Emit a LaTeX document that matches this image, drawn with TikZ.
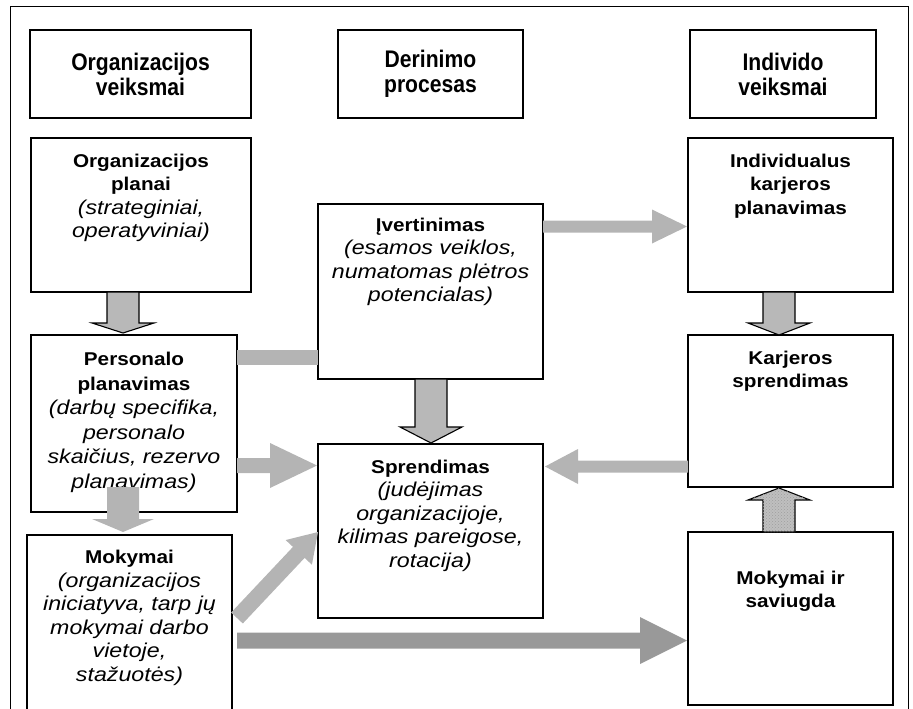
\documentclass[tikz,border=0pt]{standalone}
\usepackage{fontspec}
\setmainfont{Liberation Sans}
\newfontfamily\hdrfont[FakeStretch=0.88]{Liberation Sans}
\newfontfamily\bfam[FakeStretch=1.12]{Liberation Sans}
\newfontfamily\ifam[FakeStretch=1.16]{Liberation Sans}
\newcommand\boldtx[1]{{\bfam\bfseries #1}}
\newcommand\italtx[1]{{\ifam\itshape\fontsize{20}{23.5}\selectfont #1}}
\usetikzlibrary{calc,patterns}
\definecolor{lgray}{RGB}{180,180,180}
\definecolor{mgray}{RGB}{184,184,184}
\definecolor{dgray}{RGB}{153,153,153}
\newcommand\barrow[6]{%
  \path let \p1=(#2), \p2=(#3), \n1={atan2(\y2-\y1,\x2-\x1)}, \n2={veclen(\x2-\x1,\y2-\y1)} in \pgfextra{\xdef\barang{\n1}\xdef\barlen{\n2}};
  \path[#1, shift={(#2)}, rotate=\barang] (0,-#4) -- (\barlen-#6,-#4) -- (\barlen-#6,-#5) -- (\barlen,0) -- (\barlen-#6,#5) -- (\barlen-#6,#4) -- (0,#4) -- cycle;
}
\begin{document}
\begin{tikzpicture}[x=1pt,y=-1pt,
  box/.style={draw, line width=1.1pt, anchor=north west, inner sep=0pt, outer sep=0pt},
  txt/.style={anchor=north, align=center, inner sep=0pt, font=\fontsize{18.5}{23.5}\selectfont},
  txtw/.style={anchor=north, align=center, inner sep=0pt, font=\fontsize{18.5}{24.5}\selectfont},
  hdr/.style={anchor=center, align=center, inner sep=0pt, font=\hdrfont\bfseries\fontsize{24}{25}\selectfont},
  lightarrow/.style={fill=lgray},
  outarrow/.style={fill=mgray, draw=black, line width=1.1pt, line join=miter},
  bigarrow/.style={fill=dgray},
  texarrow/.style={fill=gray!50, postaction={pattern=crosshatch dots, pattern color=gray!75}, draw=black, line width=1.1pt},
  barfill/.style={fill=lgray}
]
\useasboundingbox (0,0) rectangle (913,709);
\draw[line width=1pt] (10,7) rectangle (908,720);

% header boxes
\node[box, minimum width=221pt, minimum height=88pt] (hA) at (30,30) {};
\node[box, minimum width=185pt, minimum height=88pt] (hB) at (338,30) {};
\node[box, minimum width=186pt, minimum height=88pt] (hC) at (690,30) {};
\node[hdr] (hAt) at (hA.center) {Organizacijos\\veiksmai};
\node[hdr] (hBt) at (hB.center) {Derinimo\\procesas};
\node[hdr] (hCt) at (hC.center) {Individo\\veiksmai};

% content boxes
\node[box, minimum width=220pt, minimum height=154pt] (op) at (31,138) {};
\node[box, minimum width=225pt, minimum height=175pt] (ev) at (318,204) {};
\node[box, minimum width=205pt, minimum height=154pt] (ik) at (688,138) {};
\node[box, minimum width=206pt, minimum height=177pt] (pp) at (31,335) {};
\node[box, minimum width=205pt, minimum height=152pt] (ks) at (688,335) {};
\node[box, minimum width=225pt, minimum height=174pt] (sp) at (318,444) {};
\node[box, minimum width=205pt, minimum height=185pt] (mk) at (27,535) {};
\node[box, minimum width=205pt, minimum height=173pt] (ms) at (688,532) {};

\node[txt] (opt) at ($(op.north)+(0,15.5)$) {\boldtx{Organizacijos}\\\boldtx{planai}\\\italtx{(strateginiai,}\\\italtx{operatyviniai)}};
\node[txt] (evt) at ($(ev.north)+(0,13.5)$) {\boldtx{Įvertinimas}\\\italtx{(esamos veiklos,}\\\italtx{numatomas plėtros}\\\italtx{potencialas)}};
\node[txt] (ikt) at ($(ik.north)+(0,15.5)$) {\boldtx{Individualus}\\\boldtx{karjeros}\\\boldtx{planavimas}};
\node[txtw] (ppt) at ($(pp.north)+(0,17)$) {\boldtx{Personalo}\\\boldtx{planavimas}\\\italtx{(darbų specifika,}\\\italtx{personalo}\\\italtx{skaičius, rezervo}\\\italtx{planavimas)}};
\node[txt] (kst) at ($(ks.north)+(0,15.5)$) {\boldtx{Karjeros}\\\boldtx{sprendimas}};
\node[txt] (spt) at ($(sp.north)+(0,15.5)$) {\boldtx{Sprendimas}\\\italtx{(judėjimas}\\\italtx{organizacijoje,}\\\italtx{kilimas pareigose,}\\\italtx{rotacija)}};
\node[txt] (mkt) at ($(mk.north)+(0,15)$) {\boldtx{Mokymai}\\\italtx{(organizacijos}\\\italtx{iniciatyva, tarp jų}\\\italtx{mokymai darbo}\\\italtx{vietoje,}\\\italtx{stažuotės)}};
\node[txt] (mst) at ($(ms.north)+(0,38.5)$) {\boldtx{Mokymai ir}\\\boldtx{saviugda}};

% connector end points
\coordinate (a1s) at ($(op.south west)+(92,0)$);
\coordinate (a1e) at ($(pp.north west)+(92,-2)$);
\coordinate (a2s) at ($(pp.south west)+(92,-25)$);
\coordinate (a2e) at ($(pp.south west)+(92,20)$);
\coordinate (a4s) at ($(ev.south west)+(113,0)$);
\coordinate (a4e) at ($(sp.north west)+(113,-1)$);
\coordinate (a5s) at ($(pp.north east)+(0,130.5)$);
\coordinate (a5e) at ($(sp.north west)+(-1,21.5)$);
\coordinate (a6s) at ($(ev.north east)+(0,22.5)$);
\coordinate (a6e) at ($(ik.north west)+(-1,88.5)$);
\coordinate (a7s) at ($(ik.south west)+(91,0)$);
\coordinate (a7e) at ($(ks.north west)+(91,0)$);
\coordinate (a8s) at ($(ks.north west)+(0,131.5)$);
\coordinate (a8e) at ($(sp.north east)+(2,22.5)$);
\coordinate (a9s) at ($(ms.north west)+(91,0)$);
\coordinate (a9e) at ($(ks.south west)+(91,1)$);
\coordinate (a10s) at ($(mk.north east)+(5,83)$);
\coordinate (a10e) at ($(sp.south west)+(0,-86)$);
\coordinate (a11s) at ($(mk.north east)+(5,105.5)$);
\coordinate (a11e) at ($(ms.north west)+(-1,108.5)$);

% connectors
\fill[barfill] ($(pp.north east)+(0,15)$) rectangle ($(ev.south west)+(0,-14)$);
\barrow{outarrow}{a1s}{a1e}{16}{31}{10}
\barrow{lightarrow}{a2s}{a2e}{16}{31}{13}
\barrow{outarrow}{a4s}{a4e}{16}{31}{16}
\barrow{lightarrow}{a5s}{a5e}{7.5}{22.5}{47}
\barrow{lightarrow}{a6s}{a6e}{6}{17}{35}
\barrow{outarrow}{a7s}{a7e}{16}{31}{12}
\barrow{lightarrow}{a8s}{a8e}{6}{17.5}{33}
\barrow{texarrow}{a9s}{a9e}{16}{31}{12}
\barrow{lightarrow}{a10s}{a10e}{8}{18}{28}
\barrow{bigarrow}{a11s}{a11e}{8}{23.5}{47}
\end{tikzpicture}
\end{document}
